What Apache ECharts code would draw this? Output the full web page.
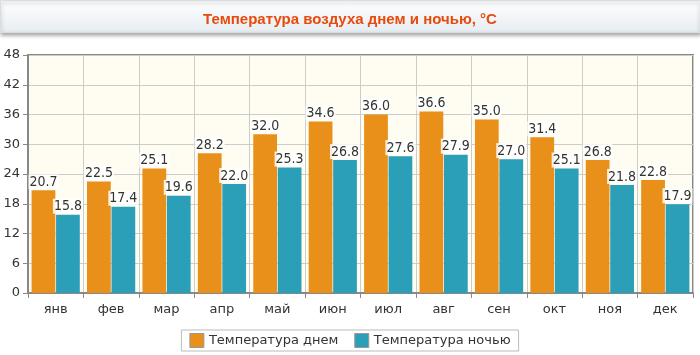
<!DOCTYPE html>
<html><head><meta charset="utf-8">
<script src="https://cdn.jsdelivr.net/npm/echarts@6/dist/echarts.min.js"></script>
<style>html,body{margin:0;padding:0;background:#fff}#c{width:700px;height:355px}</style>
</head><body><div id="c"></div>
<script>
const categories = ['янв','фев','мар','апр','май','июн','июл','авг','сен','окт','ноя','дек'];
const dayTemps = [20.7,22.5,25.1,28.2,32.0,34.6,36.0,36.6,35.0,31.4,26.8,22.8];
const nightTemps = [15.8,17.4,19.6,22.0,25.3,26.8,27.6,27.9,27.0,25.1,21.8,17.9];
const seriesNames = ['Температура днем','Температура ночью'];
const chart = echarts.init(document.getElementById('c'), null, {renderer:'canvas'});
const font = 'DejaVu Sans';
const lbl = {show:true, position:'top', distance:1, color:'#333', fontFamily:'DejaVu Sans Condensed', fontSize:14,
  backgroundColor:'rgba(255,255,255,0.85)', padding:[1,1,0,1], formatter: p => p.value.toFixed(1)};
chart.setOption({
  animation:false,
  graphic:[{
    type:'rect', left:0, top:0, shape:{width:700, height:32},
    style:{fill:new echarts.graphic.LinearGradient(0,0,0,1,[{offset:0,color:'#ffffff'},{offset:1,color:'#e6edf2'}]),
      stroke:'#d8dde2', lineWidth:1, shadowBlur:4, shadowOffsetY:2, shadowColor:'rgba(0,0,0,0.35)'},
    z:-1
  }],
  title:{text:'Температура воздуха днем и ночью, °C', left:'center', top:7,
    textStyle:{color:'#e84a0c', fontSize:15, fontWeight:'bold', fontFamily:'Liberation Sans'}},
  grid:{left:28, right:7, top:55, bottom:62, show:true, backgroundColor:'#fffcf2', borderColor:'#888', borderWidth:2},
  legend:{bottom:4, left:'center', data:seriesNames, itemWidth:14, itemHeight:14, itemGap:16,
    borderColor:'#bbb', borderWidth:1, borderRadius:0, padding:[3,8],
    textStyle:{fontFamily:font, fontSize:13, color:'#333'},
    icon:'rect', itemStyle:{borderColor:'#999', borderWidth:1}},
  xAxis:{type:'category', data:categories,
    axisLine:{lineStyle:{color:'#888', width:2}},
    axisTick:{show:true, length:5, lineStyle:{color:'#888'}},
    axisLabel:{color:'#333', fontFamily:font, fontSize:13, margin:10},
    splitLine:{show:true, lineStyle:{color:'#ccc'}}},
  yAxis:{type:'value', min:0, max:48, interval:6,
    axisLine:{show:true, lineStyle:{color:'#888', width:2}},
    axisTick:{show:true, length:5, lineStyle:{color:'#888'}},
    axisLabel:{color:'#333', fontFamily:font, fontSize:13, margin:8},
    splitLine:{lineStyle:{color:'#ccc'}}},
  series:[
    {name:seriesNames[0], type:'bar', data:dayTemps, barGap:'3%', barCategoryGap:'13%',
      itemStyle:{color:'#e8901a'}, label:lbl},
    {name:seriesNames[1], type:'bar', data:nightTemps, barGap:'3%', barCategoryGap:'13%',
      itemStyle:{color:'#2b9fb8'}, label:lbl}
  ]
});
</script></body></html>
